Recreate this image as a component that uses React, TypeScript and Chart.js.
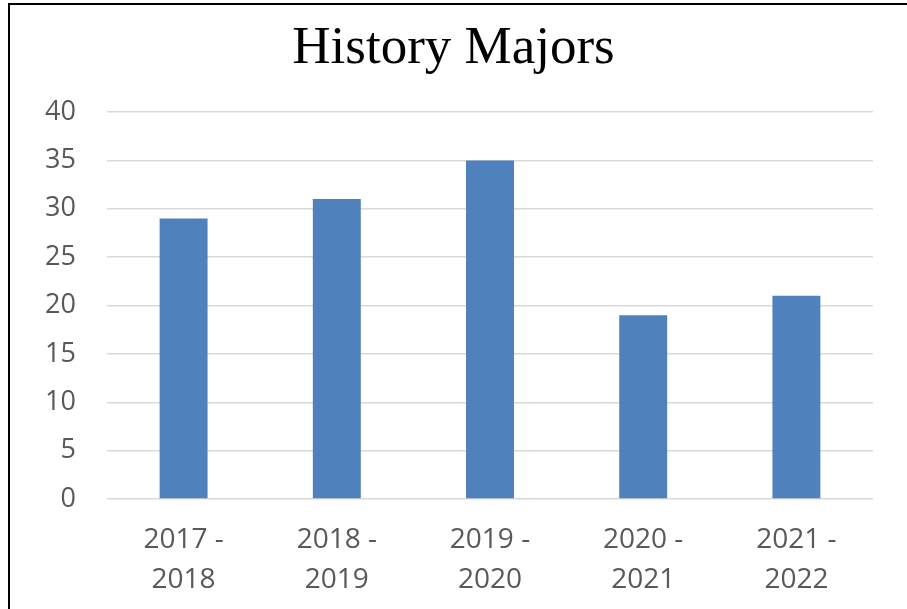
import React, { useEffect, useRef } from "react";
import { Chart, registerables } from "chart.js";

Chart.register(...registerables);

const TITLE = "History Majors";
const CATEGORIES: string[][] = [
  ["2017 -", "2018"],
  ["2018 -", "2019"],
  ["2019 -", "2020"],
  ["2020 -", "2021"],
  ["2021 -", "2022"],
];
const MAJORS = [29, 31, 35, 19, 21];
const Y_MIN = 0;
const Y_MAX = 40;
const Y_STEP = 5;

export default function App() {
  const ref = useRef<HTMLCanvasElement | null>(null);

  useEffect(() => {
    document.body.style.margin = "0";
    document.body.style.overflow = "hidden";
    const canvas = ref.current;
    if (!canvas) return;
    const chart = new Chart(canvas, {
      type: "bar",
      data: {
        labels: CATEGORIES,
        datasets: [
          {
            label: "Majors",
            data: MAJORS,
            backgroundColor: "#4F81BD",
            borderWidth: 0,
            categoryPercentage: 1,
            barPercentage: 0.313,
          },
        ],
      },
      options: {
        animation: false,
        responsive: false,
        maintainAspectRatio: false,
        layout: { padding: { left: 34, right: 34, top: 0, bottom: 0 } },
        plugins: {
          legend: { display: false },
          tooltip: { enabled: false },
          title: {
            display: true,
            text: TITLE,
            color: "#000000",
            font: { family: "'Liberation Serif', 'Times New Roman', serif", size: 53, weight: "normal", lineHeight: 1.2 },
            padding: { top: 17, bottom: 31.4 },
          },
        },
        scales: {
          x: {
            grid: { display: false, drawTicks: false },
            border: { display: false },
            ticks: {
              color: "#595959",
              padding: 21,
              maxRotation: 0,
              autoSkip: false,
              font: { family: "'Open Sans', 'Noto Sans', sans-serif", size: 28, lineHeight: 40 / 28 },
            },
            afterFit: (scale: any) => {
              scale.height = 110;
            },
          },
          y: {
            min: Y_MIN,
            max: Y_MAX,
            grid: { color: "#D9D9D9", lineWidth: 1.5, drawTicks: false },
            border: { display: false },
            ticks: {
              stepSize: Y_STEP,
              color: "#595959",
              padding: 31,
              font: { family: "'Open Sans', 'Noto Sans', sans-serif", size: 27 },
            },
            afterFit: (scale: any) => {
              scale.width = 73;
            },
          },
        },
      },
    });
    return () => chart.destroy();
  }, []);

  return (
    <div style={{ position: "fixed", left: 0, top: 0, width: 907, height: 609, background: "#fff", overflow: "hidden" }}>
      <canvas ref={ref} width={907} height={609} style={{ position: "absolute", left: 0, top: 0, width: 907, height: 609 }} />
      <div
        style={{
          position: "absolute",
          left: 8,
          top: 3,
          width: 1200,
          height: 1200,
          borderLeft: "2px solid #000",
          borderTop: "2px solid #000",
          pointerEvents: "none",
        }}
      />
    </div>
  );
}
